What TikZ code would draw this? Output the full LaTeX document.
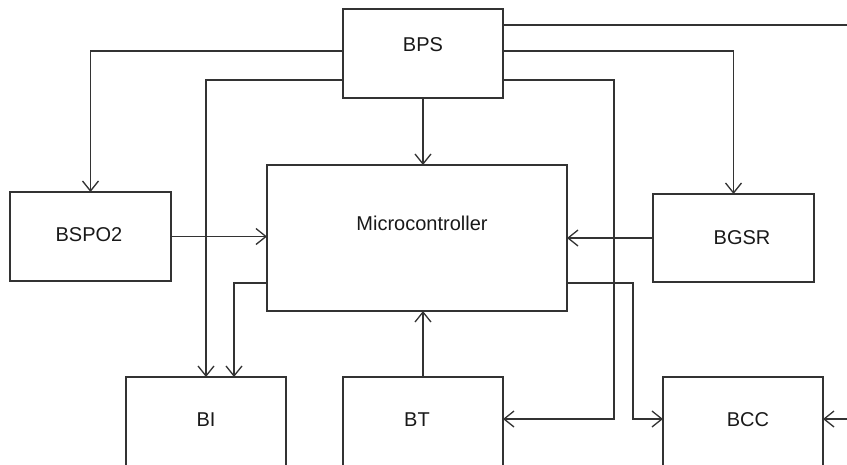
\documentclass[tikz,border=0pt]{standalone}
\usepackage{fontspec}
\setmainfont{Liberation Sans}
\usetikzlibrary{arrows.meta, calc, positioning}
\definecolor{linecol}{RGB}{51, 51, 51}
\definecolor{textcol}{RGB}{25, 25, 25}
\tikzset{
  blk/.style  = {draw=linecol, line width=1.3pt, minimum width=160pt,
                 minimum height=89pt, inner sep=0pt, outer sep=0pt},
  lbl/.style  = {font=\fontsize{20pt}{23pt}\selectfont, text=textcol,
                 inner sep=0pt},
  link/.style = {draw=linecol, line width=1.3pt},
  flow/.style = {link, -{Straight Barb[length=10pt, width=16pt]}},
}
\begin{document}
\begin{tikzpicture}[x=1pt, y=-1pt]
  \useasboundingbox (0,0) rectangle (847,464);

  %% ---------------- the blocks ----------------
  \node[blk] (bps) at (423,53.5) {};
  \node[blk, minimum width=161pt] (bspo2) at (90.5,236.5) {};
  \node[blk, minimum width=300pt, minimum height=146pt] (mcu) at (417,238) {};
  \node[blk, minimum width=161pt, minimum height=88pt] (bgsr) at (733.5,238) {};
  \node[blk] (bi)  at (206,421.5) {};
  \node[blk] (bt)  at (423,421.5) {};
  \node[blk] (bcc) at (743,421.5) {};

  \node[lbl] (bpstxt)   at (423,45)  {BPS};
  \node[lbl] (mcutxt)   at (422,223) {Microcontroller};
  \node[lbl] (bspo2txt) at (89,235)  {BSPO2};
  \node[lbl] (bgsrtxt)  at (742,238) {BGSR};
  \node[lbl] (bitxt)    at (206,420) {BI};
  \node[lbl] (bttxt)    at (417,420) {BT};
  \node[lbl] (bcctxt)   at (748,420) {BCC};

  %% ---------------- supply lines from BPS ----------------
  \coordinate (offR) at (847,25);
  \draw[link] ($(bps.north east)+(0,16)$) -- (offR);
  \draw[flow] (bps.south) -- (bps.south |- mcu.north);
  \draw[flow] ($(bps.north east)+(0,42)$) -| (bgsr.north);
  \draw[flow] ($(bps.north east)+(0,71)$) -| ($(bt.north east)+(111,42)$)
              -- ($(bt.north east)+(0,42)$);
  \draw[flow] ($(bps.north west)+(0,42)$) -| (bspo2.north);
  \draw[flow] ($(bps.north west)+(0,71)$) -| (bi.north);

  %% ---------------- signals round the microcontroller ----------------
  \draw[flow] (bspo2.east) -- (bspo2.east -| mcu.west);
  \draw[flow] (bgsr.west) -- (bgsr.west -| mcu.east);
  \draw[flow] ($(mcu.south west)+(0,-28)$) -| ($(bi.north)+(28,0)$);
  \draw[flow] (bt.north) -- (bt.north |- mcu.south);
  \draw[flow] ($(mcu.south east)+(0,-28)$) -| ($(bcc.north west)+(-30,42)$)
              -- ($(bcc.north west)+(0,42)$);
  \coordinate (inR) at (847,419);
  \draw[flow] (inR) -- ($(bcc.north east)+(0,42)$);

\end{tikzpicture}
\end{document}
